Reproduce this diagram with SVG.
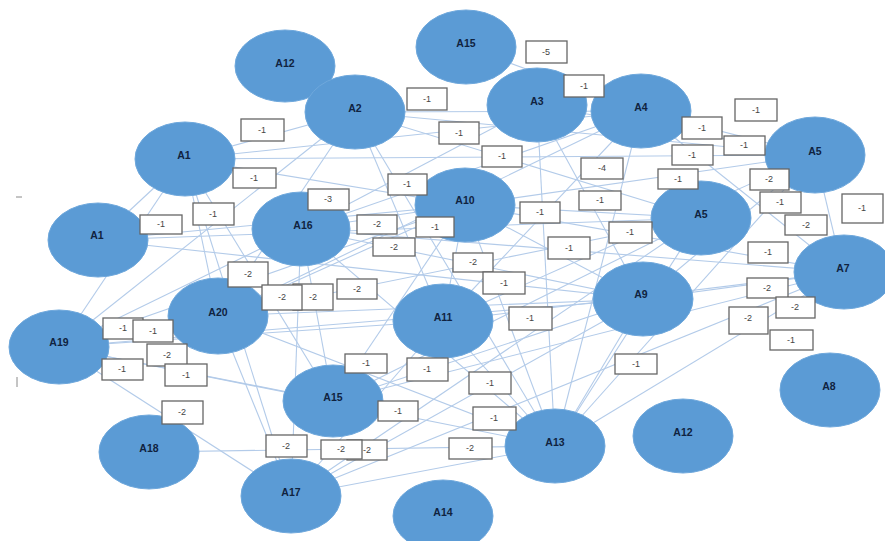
<svg xmlns="http://www.w3.org/2000/svg" width="885" height="541" viewBox="0 0 885 541">
<style>
.bg{fill:#ffffff}
.edge{stroke:#b3cbe9;stroke-width:1.1;fill:none}
.node ellipse{fill:#5b9bd5;stroke:#6fa8dc;stroke-width:1}
.node text{font-family:"Liberation Sans",Arial,sans-serif;font-size:10.5px;font-weight:bold;fill:#10233f;text-anchor:middle;dominant-baseline:central}
.lbl rect{fill:#ffffff;stroke:#666666;stroke-width:1.3}
.lbl text{font-family:"Liberation Sans",Arial,sans-serif;font-size:9px;fill:#444444;text-anchor:middle;dominant-baseline:central}
.mark{stroke:#8a8a8a;stroke-width:1}
</style>
<rect class="bg" x="0" y="0" width="885" height="541"/>
<line class="mark" x1="16" y1="197" x2="22" y2="197"/>
<line class="mark" x1="17" y1="377" x2="17" y2="387"/>
<g id="connectors">
<line class="edge" x1="185" y1="159" x2="355" y2="112"/>
<line class="edge" x1="185" y1="159" x2="465" y2="205"/>
<line class="edge" x1="185" y1="159" x2="815" y2="155"/>
<line class="edge" x1="185" y1="159" x2="218" y2="316"/>
<line class="edge" x1="185" y1="159" x2="333" y2="401"/>
<line class="edge" x1="185" y1="159" x2="291" y2="496"/>
<line class="edge" x1="185" y1="159" x2="641" y2="111"/>
<line class="edge" x1="98" y1="240" x2="465" y2="205"/>
<line class="edge" x1="98" y1="240" x2="701" y2="218"/>
<line class="edge" x1="98" y1="240" x2="185" y2="159"/>
<line class="edge" x1="98" y1="240" x2="643" y2="299"/>
<line class="edge" x1="59" y1="347" x2="185" y2="159"/>
<line class="edge" x1="59" y1="347" x2="301" y2="229"/>
<line class="edge" x1="59" y1="347" x2="465" y2="205"/>
<line class="edge" x1="59" y1="347" x2="355" y2="112"/>
<line class="edge" x1="59" y1="347" x2="218" y2="316"/>
<line class="edge" x1="59" y1="347" x2="443" y2="321"/>
<line class="edge" x1="59" y1="347" x2="643" y2="299"/>
<line class="edge" x1="59" y1="347" x2="333" y2="401"/>
<line class="edge" x1="59" y1="347" x2="555" y2="446"/>
<line class="edge" x1="59" y1="347" x2="291" y2="496"/>
<line class="edge" x1="218" y1="316" x2="355" y2="112"/>
<line class="edge" x1="218" y1="316" x2="701" y2="218"/>
<line class="edge" x1="218" y1="316" x2="465" y2="205"/>
<line class="edge" x1="218" y1="316" x2="555" y2="446"/>
<line class="edge" x1="218" y1="316" x2="291" y2="496"/>
<line class="edge" x1="218" y1="316" x2="641" y2="111"/>
<line class="edge" x1="218" y1="316" x2="643" y2="299"/>
<line class="edge" x1="301" y1="229" x2="333" y2="401"/>
<line class="edge" x1="301" y1="229" x2="555" y2="446"/>
<line class="edge" x1="301" y1="229" x2="465" y2="205"/>
<line class="edge" x1="301" y1="229" x2="643" y2="299"/>
<line class="edge" x1="301" y1="229" x2="641" y2="111"/>
<line class="edge" x1="301" y1="229" x2="537" y2="105"/>
<line class="edge" x1="301" y1="229" x2="843" y2="272"/>
<line class="edge" x1="301" y1="229" x2="291" y2="496"/>
<line class="edge" x1="355" y1="112" x2="641" y2="111"/>
<line class="edge" x1="355" y1="112" x2="815" y2="155"/>
<line class="edge" x1="355" y1="112" x2="701" y2="218"/>
<line class="edge" x1="355" y1="112" x2="443" y2="321"/>
<line class="edge" x1="355" y1="112" x2="555" y2="446"/>
<line class="edge" x1="465" y1="205" x2="701" y2="218"/>
<line class="edge" x1="465" y1="205" x2="443" y2="321"/>
<line class="edge" x1="465" y1="205" x2="555" y2="446"/>
<line class="edge" x1="465" y1="205" x2="643" y2="299"/>
<line class="edge" x1="465" y1="205" x2="815" y2="155"/>
<line class="edge" x1="465" y1="205" x2="333" y2="401"/>
<line class="edge" x1="465" y1="205" x2="843" y2="272"/>
<line class="edge" x1="466" y1="47" x2="641" y2="111"/>
<line class="edge" x1="537" y1="105" x2="555" y2="446"/>
<line class="edge" x1="537" y1="105" x2="643" y2="299"/>
<line class="edge" x1="537" y1="105" x2="815" y2="155"/>
<line class="edge" x1="641" y1="111" x2="815" y2="155"/>
<line class="edge" x1="641" y1="111" x2="443" y2="321"/>
<line class="edge" x1="641" y1="111" x2="555" y2="446"/>
<line class="edge" x1="641" y1="111" x2="843" y2="272"/>
<line class="edge" x1="815" y1="155" x2="443" y2="321"/>
<line class="edge" x1="815" y1="155" x2="555" y2="446"/>
<line class="edge" x1="815" y1="155" x2="643" y2="299"/>
<line class="edge" x1="815" y1="155" x2="843" y2="272"/>
<line class="edge" x1="701" y1="218" x2="555" y2="446"/>
<line class="edge" x1="701" y1="218" x2="291" y2="496"/>
<line class="edge" x1="843" y1="272" x2="443" y2="321"/>
<line class="edge" x1="843" y1="272" x2="333" y2="401"/>
<line class="edge" x1="843" y1="272" x2="555" y2="446"/>
<line class="edge" x1="843" y1="272" x2="291" y2="496"/>
<line class="edge" x1="643" y1="299" x2="843" y2="272"/>
<line class="edge" x1="643" y1="299" x2="555" y2="446"/>
<line class="edge" x1="643" y1="299" x2="333" y2="401"/>
<line class="edge" x1="643" y1="299" x2="291" y2="496"/>
<line class="edge" x1="443" y1="321" x2="555" y2="446"/>
<line class="edge" x1="443" y1="321" x2="291" y2="496"/>
<line class="edge" x1="333" y1="401" x2="701" y2="218"/>
<line class="edge" x1="149" y1="452" x2="555" y2="446"/>
<line class="edge" x1="555" y1="446" x2="291" y2="496"/>
</g>
<g id="node-A12-top" class="node"><ellipse cx="285" cy="66" rx="50" ry="36"/><text x="285" y="63">A12</text></g>
<g id="node-A15-top" class="node"><ellipse cx="466" cy="47" rx="50" ry="37"/><text x="466" y="43">A15</text></g>
<g id="node-A2" class="node"><ellipse cx="355" cy="112" rx="50" ry="37"/><text x="355" y="108">A2</text></g>
<g id="node-A3" class="node"><ellipse cx="537" cy="105" rx="50" ry="37"/><text x="537" y="101">A3</text></g>
<g id="node-A4" class="node"><ellipse cx="641" cy="111" rx="50" ry="37"/><text x="641" y="107">A4</text></g>
<g id="node-A5-top" class="node"><ellipse cx="815" cy="155" rx="50" ry="38"/><text x="815" y="151">A5</text></g>
<g id="node-A1-upper" class="node"><ellipse cx="185" cy="159" rx="50" ry="37"/><text x="184" y="155">A1</text></g>
<g id="node-A1-lower" class="node"><ellipse cx="98" cy="240" rx="50" ry="37"/><text x="97" y="235">A1</text></g>
<g id="node-A16" class="node"><ellipse cx="301" cy="229" rx="49" ry="37"/><text x="303" y="225">A16</text></g>
<g id="node-A10" class="node"><ellipse cx="465" cy="205" rx="50" ry="37"/><text x="465" y="200">A10</text></g>
<g id="node-A5-mid" class="node"><ellipse cx="701" cy="218" rx="50" ry="37"/><text x="701" y="214">A5</text></g>
<g id="node-A7" class="node"><ellipse cx="844" cy="272" rx="50" ry="37"/><text x="843" y="268">A7</text></g>
<g id="node-A20" class="node"><ellipse cx="218" cy="316" rx="50" ry="38"/><text x="218" y="312">A20</text></g>
<g id="node-A11" class="node"><ellipse cx="443" cy="321" rx="50" ry="37"/><text x="443" y="317">A11</text></g>
<g id="node-A9" class="node"><ellipse cx="643" cy="299" rx="50" ry="37"/><text x="641" y="294">A9</text></g>
<g id="node-A19" class="node"><ellipse cx="59" cy="347" rx="50" ry="37"/><text x="59" y="342">A19</text></g>
<g id="node-A15-bottom" class="node"><ellipse cx="333" cy="401" rx="50" ry="36"/><text x="333" y="397">A15</text></g>
<g id="node-A13" class="node"><ellipse cx="555" cy="446" rx="50" ry="37"/><text x="555" y="442">A13</text></g>
<g id="node-A12" class="node"><ellipse cx="683" cy="436" rx="50" ry="37"/><text x="683" y="432">A12</text></g>
<g id="node-A8" class="node"><ellipse cx="830" cy="390" rx="50" ry="37"/><text x="829" y="386">A8</text></g>
<g id="node-A18" class="node"><ellipse cx="149" cy="452" rx="50" ry="37"/><text x="149" y="448">A18</text></g>
<g id="node-A17" class="node"><ellipse cx="291" cy="496" rx="50" ry="37"/><text x="291" y="492">A17</text></g>
<g id="node-A14" class="node"><ellipse cx="443" cy="516" rx="50" ry="36"/><text x="443" y="512">A14</text></g>
<g id="edge-labels" class="lbl">
<rect x="526" y="41" width="41" height="22"/><text x="546" y="52">-5</text>
<rect x="564" y="75" width="40" height="22"/><text x="584" y="86">-1</text>
<rect x="407" y="88" width="40" height="22"/><text x="427" y="99">-1</text>
<rect x="439" y="122" width="40" height="22"/><text x="459" y="133">-1</text>
<rect x="482" y="146" width="40" height="21"/><text x="502" y="156">-1</text>
<rect x="388" y="174" width="39" height="21"/><text x="407" y="184">-1</text>
<rect x="308" y="189" width="41" height="21"/><text x="328" y="199">-3</text>
<rect x="357" y="215" width="40" height="19"/><text x="377" y="224">-2</text>
<rect x="416" y="217" width="38" height="20"/><text x="435" y="227">-1</text>
<rect x="373" y="238" width="42" height="18"/><text x="394" y="247">-2</text>
<rect x="520" y="202" width="40" height="21"/><text x="540" y="212">-1</text>
<rect x="453" y="253" width="40" height="19"/><text x="473" y="262">-2</text>
<rect x="548" y="237" width="42" height="22"/><text x="569" y="248">-1</text>
<rect x="581" y="158" width="42" height="21"/><text x="602" y="168">-4</text>
<rect x="579" y="191" width="42" height="19"/><text x="600" y="200">-1</text>
<rect x="609" y="222" width="43" height="21"/><text x="630" y="232">-1</text>
<rect x="483" y="272" width="42" height="22"/><text x="504" y="283">-1</text>
<rect x="509" y="307" width="43" height="23"/><text x="530" y="318">-1</text>
<rect x="735" y="99" width="42" height="22"/><text x="756" y="110">-1</text>
<rect x="682" y="117" width="40" height="22"/><text x="702" y="128">-1</text>
<rect x="724" y="136" width="41" height="19"/><text x="744" y="145">-1</text>
<rect x="672" y="145" width="41" height="20"/><text x="692" y="155">-1</text>
<rect x="658" y="169" width="40" height="20"/><text x="678" y="179">-1</text>
<rect x="750" y="169" width="39" height="21"/><text x="769" y="179">-2</text>
<rect x="760" y="192" width="41" height="21"/><text x="780" y="202">-1</text>
<rect x="842" y="194" width="41" height="29"/><text x="862" y="208">-1</text>
<rect x="785" y="215" width="42" height="20"/><text x="806" y="225">-2</text>
<rect x="748" y="242" width="40" height="21"/><text x="768" y="252">-1</text>
<rect x="747" y="278" width="41" height="20"/><text x="767" y="288">-2</text>
<rect x="776" y="297" width="39" height="21"/><text x="795" y="307">-2</text>
<rect x="729" y="307" width="39" height="27"/><text x="748" y="318">-2</text>
<rect x="770" y="330" width="43" height="20"/><text x="791" y="340">-1</text>
<rect x="615" y="354" width="42" height="20"/><text x="636" y="364">-1</text>
<rect x="241" y="119" width="43" height="22"/><text x="262" y="130">-1</text>
<rect x="233" y="168" width="43" height="20"/><text x="254" y="178">-1</text>
<rect x="193" y="203" width="41" height="22"/><text x="213" y="214">-1</text>
<rect x="140" y="215" width="42" height="19"/><text x="161" y="224">-1</text>
<rect x="228" y="262" width="40" height="25"/><text x="248" y="274">-2</text>
<rect x="293" y="284" width="40" height="26"/><text x="313" y="297">-2</text>
<rect x="262" y="285" width="40" height="25"/><text x="282" y="297">-2</text>
<rect x="337" y="279" width="40" height="20"/><text x="357" y="289">-2</text>
<rect x="103" y="318" width="40" height="21"/><text x="123" y="328">-1</text>
<rect x="133" y="320" width="40" height="22"/><text x="153" y="331">-1</text>
<rect x="147" y="344" width="40" height="22"/><text x="167" y="355">-2</text>
<rect x="102" y="359" width="41" height="21"/><text x="122" y="369">-1</text>
<rect x="165" y="364" width="42" height="22"/><text x="186" y="375">-1</text>
<rect x="162" y="401" width="41" height="23"/><text x="182" y="412">-2</text>
<rect x="266" y="435" width="41" height="22"/><text x="286" y="446">-2</text>
<rect x="345" y="354" width="42" height="19"/><text x="366" y="363">-1</text>
<rect x="407" y="358" width="41" height="23"/><text x="427" y="369">-1</text>
<rect x="469" y="372" width="42" height="22"/><text x="490" y="383">-1</text>
<rect x="378" y="401" width="40" height="20"/><text x="398" y="411">-1</text>
<rect x="473" y="407" width="43" height="23"/><text x="494" y="418">-1</text>
<rect x="347" y="440" width="40" height="20"/><text x="367" y="450">-2</text>
<rect x="321" y="440" width="41" height="19"/><text x="341" y="449">-2</text>
<rect x="449" y="438" width="43" height="21"/><text x="470" y="448">-2</text>
</g>
</svg>
